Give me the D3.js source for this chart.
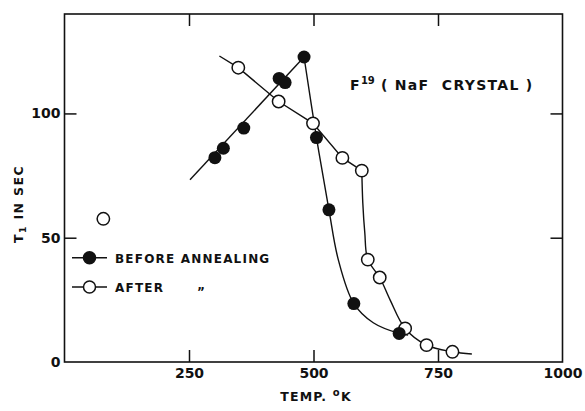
<!DOCTYPE html>
<html>
<head>
<meta charset="utf-8">
<script src="https://cdn.jsdelivr.net/npm/d3@7"></script>
<style>
  html, body { margin: 0; padding: 0; background: #fff; }
  svg { display: block; }
  text { font-family: "DejaVu Sans", "Liberation Sans", sans-serif; font-weight: bold; fill: #111; }
</style>
</head>
<body>
<svg id="chart" width="585" height="411"></svg>
<script>
// ---- data ----
const beforeTemp = [302, 319, 360, 431, 443, 481, 506, 531, 581, 672];
const beforeT1   = [82.2, 86.0, 94.1, 114.1, 112.4, 122.7, 90.3, 61.2, 23.5, 11.5];
const afterTemp  = [78, 349, 430, 499, 558, 597, 609, 633, 684, 727, 779];
const afterT1    = [57.6, 118.4, 104.8, 96.0, 82.1, 77.0, 41.2, 34.0, 13.5, 6.8, 4.1];
// hand-drawn guide curves
const beforeRiseTemp = [252, 481];
const beforeRiseT1   = [73.3, 122.7];
const beforeFallTemp = [481, 506, 531, 550, 581, 620, 672, 690];
const beforeFallT1   = [122.7, 90.3, 61.2, 41, 23.5, 15.8, 11.5, 10.8];
const afterFlatTemp  = [311, 349, 430, 499, 558, 597];
const afterFlatT1    = [123.1, 118.4, 104.8, 96.0, 82.1, 77.0];
const afterFallTemp  = [597, 599, 603, 609, 633, 654, 684, 727, 779, 818];
const afterFallT1    = [77.0, 64, 52, 41.2, 34.0, 24.9, 13.5, 6.8, 4.1, 3.2];
const xTicks = [250, 500, 750, 1000];
const yTicks = [0, 50, 100];
const xTickLabels = ["250", "500", "750", "1000"];
const yTickLabels = ["0", "50", "100"];

const svg = d3.select("#chart");
const x = d3.scaleLinear().domain([0, 1000]).range([64.5, 562.5]);
const y = d3.scaleLinear().domain([0, 140]).range([362, 14]);
const ink = "#111";

// frame
svg.append("rect").attr("x", x(0)).attr("y", y(140))
  .attr("width", x(1000) - x(0)).attr("height", y(0) - y(140))
  .attr("fill", "none").attr("stroke", ink).attr("stroke-width", 1.6);

const tl = 12;
const gBottom = svg.append("g").attr("transform", `translate(0,${y(0)})`)
  .call(d3.axisBottom(x).tickValues(xTicks).tickSize(-tl).tickPadding(6)
    .tickFormat((d, i) => xTickLabels[i]));
const gTop = svg.append("g").attr("transform", `translate(0,${y(140)})`)
  .call(d3.axisTop(x).tickValues([250, 500, 750]).tickSize(-tl).tickFormat(""));
const gLeft = svg.append("g").attr("transform", `translate(${x(0)},0)`)
  .call(d3.axisLeft(y).tickValues(yTicks).tickSize(-tl).tickPadding(4)
    .tickFormat((d, i) => yTickLabels[i]));
const gRight = svg.append("g").attr("transform", `translate(${x(1000)},0)`)
  .call(d3.axisRight(y).tickValues([50, 100]).tickSize(-tl).tickFormat(""));

[gBottom, gTop, gLeft, gRight].forEach(g => {
  g.select(".domain").remove();
  g.selectAll(".tick line").attr("stroke", ink).attr("stroke-width", 1.5);
  g.selectAll("text").attr("font-size", 14).attr("fill", ink)
    .style("font-family", '"DejaVu Sans", sans-serif').style("font-weight", "bold");
});
gLeft.selectAll(".tick").filter(d => d === 0).select("line").remove();
gBottom.selectAll(".tick").filter(d => d === 1000).select("line").remove();

// curves
const lineLin = d3.line().x(d => x(d[0])).y(d => y(d[1])).curve(d3.curveLinear);
const lineSmooth = d3.line().x(d => x(d[0])).y(d => y(d[1])).curve(d3.curveCatmullRom.alpha(0.5));
const zip = (a, b) => a.map((v, i) => [v, b[i]]);
const curveStyle = p => p.attr("fill", "none").attr("stroke", ink).attr("stroke-width", 1.4);
curveStyle(svg.append("path").attr("d", lineLin(zip(beforeRiseTemp, beforeRiseT1))));
curveStyle(svg.append("path").attr("d", lineSmooth(zip(beforeFallTemp, beforeFallT1))));
curveStyle(svg.append("path").attr("d", lineLin(zip(afterFlatTemp, afterFlatT1))));
curveStyle(svg.append("path").attr("d", lineSmooth(zip(afterFallTemp, afterFallT1))));

// points
const r = 6.5;
svg.append("g").selectAll("circle").data(zip(afterTemp, afterT1)).join("circle")
  .attr("cx", d => x(d[0])).attr("cy", d => y(d[1])).attr("r", r - 0.3)
  .attr("fill", "#fff").attr("stroke", ink).attr("stroke-width", 1.5);
svg.append("g").selectAll("circle").data(zip(beforeTemp, beforeT1)).join("circle")
  .attr("cx", d => x(d[0])).attr("cy", d => y(d[1])).attr("r", r)
  .attr("fill", ink);

// legend
const leg = svg.append("g");
[[257.7, true, "BEFORE ANNEALING"], [287, false, "AFTER"]].forEach(([ly, filled, label]) => {
  leg.append("line").attr("x1", 72).attr("x2", 107).attr("y1", ly).attr("y2", ly)
    .attr("stroke", ink).attr("stroke-width", 1.5);
  leg.append("circle").attr("cx", 89.5).attr("cy", ly).attr("r", 6)
    .attr("fill", filled ? ink : "#fff").attr("stroke", ink).attr("stroke-width", 1.5);
  leg.append("text").attr("x", 115).attr("y", ly + 5).attr("font-size", 12)
    .attr("letter-spacing", 1.2).text(label);
});
leg.append("text").attr("x", 197).attr("y", 296).attr("font-size", 12).text("\u201D");

// title
const title = svg.append("text").attr("x", 350).attr("y", 90).attr("font-size", 14)
  .attr("letter-spacing", 1.3).style("white-space", "pre");
title.append("tspan").text("F");
title.append("tspan").attr("dy", -6).attr("font-size", 10).attr("letter-spacing", 0).text("19");
title.append("tspan").attr("dy", 6).text(" ( NaF  CRYSTAL )");

// axis titles
svg.append("text").attr("x", 316).attr("y", 401).attr("text-anchor", "middle")
  .attr("font-size", 12.5).attr("letter-spacing", 1.2)
  .html('TEMP. <tspan dy="-5" font-size="10">o</tspan><tspan dy="5">K</tspan>');
const yt = svg.append("text").attr("transform", "translate(23,204) rotate(-90)")
  .attr("text-anchor", "middle").attr("font-size", 12.5).attr("letter-spacing", 1.4);
yt.append("tspan").text("T");
yt.append("tspan").attr("dy", 3).attr("font-size", 9).text("1");
yt.append("tspan").attr("dy", -3).text(" IN SEC");
</script>
</body>
</html>
